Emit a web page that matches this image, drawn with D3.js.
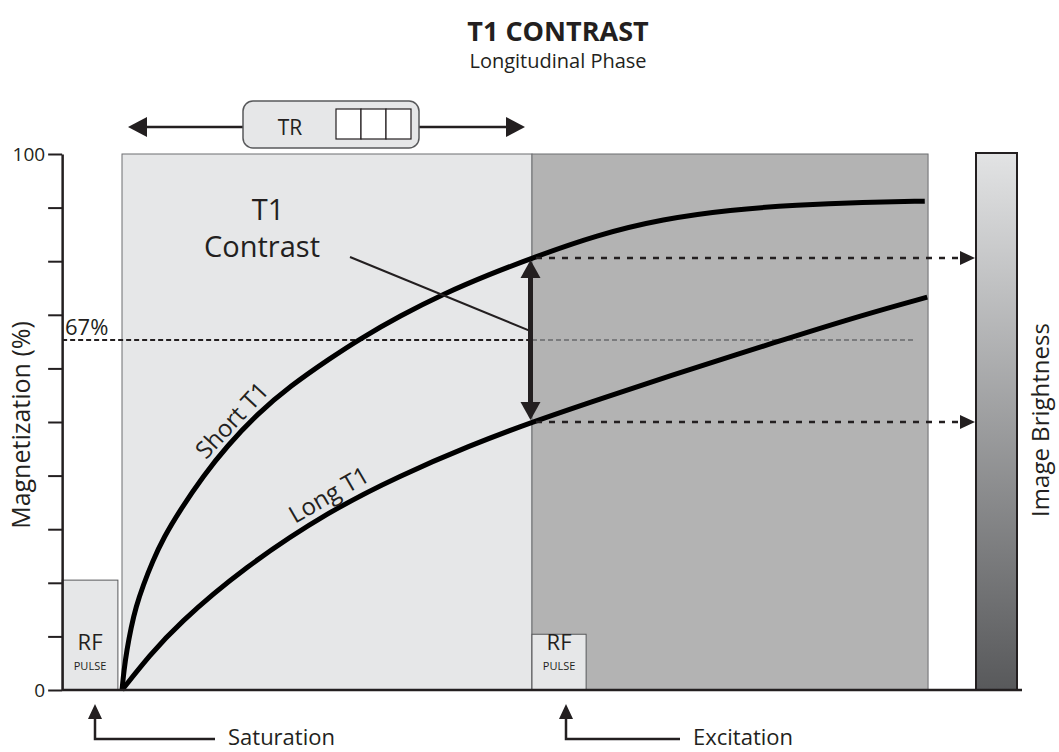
<!DOCTYPE html>
<html lang="en">
<head>
<meta charset="UTF-8">
<title>T1 Contrast</title>
<script src="https://d3js.org/d3.v7.min.js"></script>
<style>
  body { margin: 0; background: #fff; }
  text { font-family: "Open Sans", sans-serif; fill: #231f20; }
</style>
</head>
<body>
<svg id="chart" width="1059" height="752"></svg>
<script>
// Time in ms after the saturation pulse, magnetization in %
const shortT1Time = [0, 2.4, 6, 11, 17, 26, 37, 51, 71, 99, 128, 165, 205, 254, 290, 339, 392, 449, 500, 579, 660, 742, 823, 904, 979];
const shortT1Mag  = [0, 3.7, 7.5, 11.6, 15.5, 19.6, 23.9, 28.5, 33.6, 39.9, 45.5, 51.5, 56.7, 61.9, 65.5, 69.8, 73.9, 77.6, 80.6, 84.9, 87.9, 89.6, 90.5, 91.0, 91.2];
const longT1Time  = [0, 34, 67, 148, 254, 339, 424, 500, 583, 660, 799, 904, 982];
const longT1Mag   = [0, 6.5, 12.1, 22.8, 33.5, 40.0, 45.6, 50.0, 54.3, 58.2, 65.0, 70.0, 73.3];

const yTicks = [0, 10, 20, 30, 40, 50, 60, 70, 80, 90, 100];
const yTickLabels = ["0", "", "", "", "", "", "", "", "", "", "100"];

const TR = 500;            // excitation time
const timeStart = -73;     // where the magnetization axis sits
const timeEnd = 983;       // end of the second interval
const refLevel = 65.3;     // dashed reference line
const refLabel = "67%";
const rfPulses = [{ t0: -73, t1: -5, top: 20.5 }, { t0: 500, t1: 566, top: 10.4 }];

const svg = d3.select("#chart");
const dark = "#231f20";

const xScale = d3.scaleLinear().domain([0, TR]).range([122, 532]);
const yScale = d3.scaleLinear().domain([0, 100]).range([690, 154]);

const shortData = shortT1Time.map((t, i) => [t, shortT1Mag[i]]);
const longData = longT1Time.map((t, i) => [t, longT1Mag[i]]);

// title
svg.append("text").attr("x", 558).attr("y", 41).attr("text-anchor", "middle")
    .style("font-size", "27px").style("font-weight", "700").text("T1 CONTRAST");
svg.append("text").attr("x", 558).attr("y", 68).attr("text-anchor", "middle")
    .style("font-size", "20px").text("Longitudinal Phase");

// background intervals
svg.append("rect")
    .attr("x", xScale(0)).attr("y", yScale(100))
    .attr("width", xScale(TR) - xScale(0)).attr("height", yScale(0) - yScale(100))
    .attr("fill", "#e6e7e8").attr("stroke", "#6d6e71").attr("stroke-width", 1);
svg.append("rect")
    .attr("x", xScale(TR)).attr("y", yScale(100))
    .attr("width", xScale(timeEnd) - xScale(TR)).attr("height", yScale(0) - yScale(100))
    .attr("fill", "#b3b3b3").attr("stroke", "#6d6e71").attr("stroke-width", 1);

// rf pulse boxes
rfPulses.forEach(p => {
    const g = svg.append("g");
    const cx = (xScale(p.t0) + xScale(p.t1)) / 2;
    g.append("rect")
        .attr("x", xScale(p.t0)).attr("y", yScale(p.top))
        .attr("width", xScale(p.t1) - xScale(p.t0)).attr("height", yScale(0) - yScale(p.top))
        .attr("fill", "#e6e7e8").attr("stroke", "#58595b").attr("stroke-width", 1);
    g.append("text").attr("x", cx).attr("y", 650).attr("text-anchor", "middle")
        .style("font-size", "22px").text("RF");
    g.append("text").attr("x", cx).attr("y", 670).attr("text-anchor", "middle")
        .style("font-size", "11px").text("PULSE");
});

// 67% reference line (dark over the first interval, grey over the second)
svg.append("line")
    .attr("x1", xScale(timeStart)).attr("x2", xScale(TR))
    .attr("y1", yScale(refLevel)).attr("y2", yScale(refLevel))
    .attr("stroke", dark).attr("stroke-width", 2).attr("stroke-dasharray", "5,3");
svg.append("line")
    .attr("x1", xScale(TR)).attr("x2", xScale(965))
    .attr("y1", yScale(refLevel)).attr("y2", yScale(refLevel))
    .attr("stroke", "#7a7b7d").attr("stroke-width", 2).attr("stroke-dasharray", "5,3");
svg.append("text").attr("x", 65).attr("y", yScale(refLevel) - 5)
    .style("font-size", "22px").text(refLabel);

// curves
const line = d3.line().x(d => xScale(d[0])).y(d => yScale(d[1])).curve(d3.curveBasis);
svg.append("path").datum(shortData).attr("d", line)
    .attr("fill", "none").attr("stroke", "#000").attr("stroke-width", 5);
svg.append("path").datum(longData).attr("d", line)
    .attr("fill", "none").attr("stroke", "#000").attr("stroke-width", 5);

// curve labels, sitting just above their curves
svg.append("text").attr("transform", "translate(238,426) rotate(-47)")
    .attr("text-anchor", "middle").style("font-size", "24px").text("Short T1");
svg.append("text").attr("transform", "translate(333,502) rotate(-30)")
    .attr("text-anchor", "middle").style("font-size", "24px").text("Long T1");

// contrast double arrow at TR
const yHi = yScale(shortT1Mag[shortT1Time.indexOf(TR)]);
const yLo = yScale(longT1Mag[longT1Time.indexOf(TR)]);
const ax = xScale(TR) - 1.5;
svg.append("line").attr("x1", ax).attr("x2", ax).attr("y1", yHi + 14).attr("y2", yLo - 14)
    .attr("stroke", dark).attr("stroke-width", 5);
svg.append("path").attr("d", `M${ax},${yHi + 2} L${ax - 10},${yHi + 20} L${ax + 10},${yHi + 20} Z`).attr("fill", dark);
svg.append("path").attr("d", `M${ax},${yLo - 2} L${ax - 10},${yLo - 20} L${ax + 10},${yLo - 20} Z`).attr("fill", dark);

// T1 contrast label + pointer
svg.append("text").attr("x", 268).attr("y", 220).attr("text-anchor", "middle")
    .style("font-size", "29px").text("T1");
svg.append("text").attr("x", 262).attr("y", 257).attr("text-anchor", "middle")
    .style("font-size", "29px").text("Contrast");
svg.append("line").attr("x1", 350).attr("y1", 257).attr("x2", xScale(TR) - 2).attr("y2", yScale(67))
    .attr("stroke", dark).attr("stroke-width", 2);

// brightness scale
const barX = 976, barW = 41;
const grad = svg.append("defs").append("linearGradient")
    .attr("id", "bright").attr("x1", 0).attr("x2", 0).attr("y1", 0).attr("y2", 1);
grad.append("stop").attr("offset", "0%").attr("stop-color", "#e2e3e4");
grad.append("stop").attr("offset", "100%").attr("stop-color", "#58595b");
svg.append("rect")
    .attr("x", barX).attr("y", yScale(100) - 1)
    .attr("width", barW).attr("height", yScale(0) - yScale(100) + 1)
    .attr("fill", "url(#bright)").attr("stroke", dark).attr("stroke-width", 2);
svg.append("text").attr("transform", `translate(1049,${yScale(50) - 2}) rotate(-90)`)
    .attr("text-anchor", "middle").style("font-size", "24px").text("Image Brightness");

// dashed arrows from the curves at TR to the brightness bar
[yHi, yLo].forEach(y => {
    svg.append("line").attr("x1", xScale(TR) + 4).attr("x2", barX - 14).attr("y1", y).attr("y2", y)
        .attr("stroke", dark).attr("stroke-width", 2.5).attr("stroke-dasharray", "6,7");
    svg.append("path").attr("d", `M${barX - 1},${y} L${barX - 16},${y - 7} L${barX - 16},${y + 7} Z`).attr("fill", dark);
});

// magnetization axis
const yAxis = d3.axisLeft(yScale).tickValues(yTicks).tickSize(14).tickSizeOuter(0)
    .tickFormat((d, i) => yTickLabels[i]);
const axisG = svg.append("g").attr("transform", `translate(${xScale(timeStart)},0)`).call(yAxis);
axisG.select(".domain").attr("stroke", dark).attr("stroke-width", 2.5);
axisG.selectAll(".tick line").attr("stroke", dark).attr("stroke-width", 2);
axisG.selectAll(".tick text").attr("x", -17).style("font-size", "19px")
    .style("font-family", "'Open Sans', sans-serif").attr("fill", dark);
svg.append("line").attr("x1", xScale(timeStart)).attr("x2", 1022)
    .attr("y1", yScale(0)).attr("y2", yScale(0)).attr("stroke", dark).attr("stroke-width", 2.5);
svg.append("text").attr("transform", `translate(30,${yScale(50) + 3}) rotate(-90)`)
    .attr("text-anchor", "middle").style("font-size", "25px").text("Magnetization (%)");

// TR span arrow
const trY = 127;
svg.append("line").attr("x1", 145).attr("x2", 508).attr("y1", trY).attr("y2", trY)
    .attr("stroke", dark).attr("stroke-width", 2.5);
svg.append("path").attr("d", `M128,${trY} L147,${trY - 10} L147,${trY + 10} Z`).attr("fill", dark);
svg.append("path").attr("d", `M525,${trY} L506,${trY - 10} L506,${trY + 10} Z`).attr("fill", dark);
svg.append("rect").attr("x", 243).attr("y", 101).attr("width", 176).attr("height", 47).attr("rx", 10)
    .attr("fill", "#e6e7e8").attr("stroke", "#58595b").attr("stroke-width", 1.5);
svg.append("text").attr("x", 290).attr("y", 135).attr("text-anchor", "middle")
    .style("font-size", "21px").text("TR");
[0, 1, 2].forEach(i => {
    svg.append("rect").attr("x", 336 + i * 25).attr("y", 109).attr("width", 25).attr("height", 30)
        .attr("fill", "#fff").attr("stroke", dark).attr("stroke-width", 1.2);
});

// pulse callouts under the axis
const callouts = [{ x: 95, end: 215, label: "Saturation" }, { x: 566, end: 680, label: "Excitation" }];
callouts.forEach(c => {
    svg.append("path").attr("d", `M${c.x},714 L${c.x},739 L${c.end},739`)
        .attr("fill", "none").attr("stroke", dark).attr("stroke-width", 2.5);
    svg.append("path").attr("d", `M${c.x},704 L${c.x - 7},719 L${c.x + 7},719 Z`).attr("fill", dark);
    svg.append("text").attr("x", c.end + 13).attr("y", 745).style("font-size", "22px").text(c.label);
});
</script>
</body>
</html>
